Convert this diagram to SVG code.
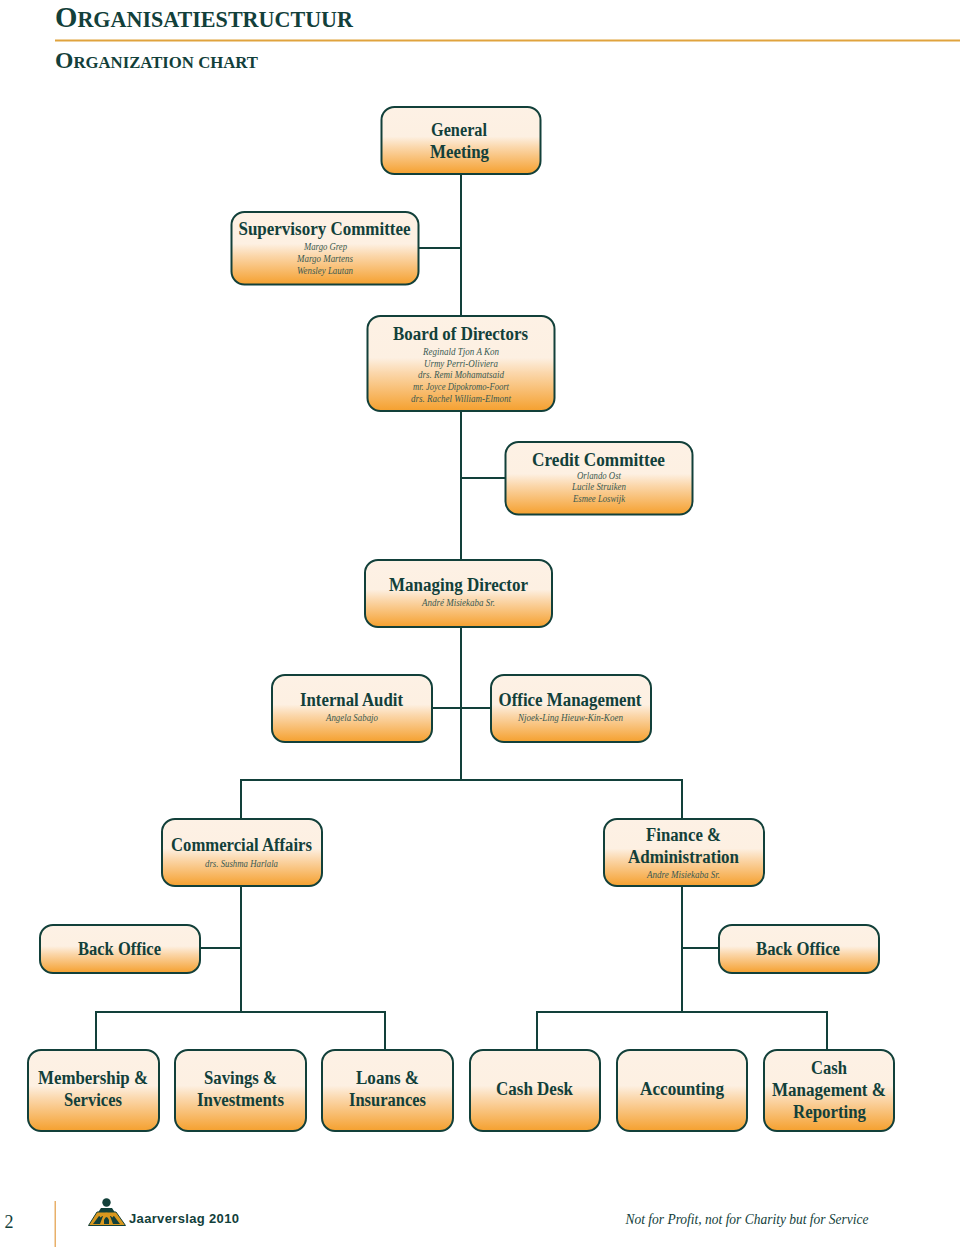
<svg xmlns="http://www.w3.org/2000/svg" width="960" height="1247" viewBox="0 0 960 1247">
<style>
text{font-family:"Liberation Serif","Times New Roman",serif;fill:#12403a;text-anchor:middle}
.n{fill:url(#g);stroke:#12403a;stroke-width:2}
.t{font-size:18.5px;font-weight:bold}
.s{font-size:10.5px;font-style:italic;fill:#3a5a52}
.c{fill:none;stroke:#12403a;stroke-width:2}
.h{text-anchor:start;font-weight:bold}
</style>
<defs><linearGradient id="g" x1="0" y1="0" x2="0" y2="1"><stop offset="0" stop-color="#fdf1e5"/><stop offset=".44" stop-color="#fdf0e2"/><stop offset=".6" stop-color="#fbd7ab"/><stop offset="1" stop-color="#f5a02e"/></linearGradient></defs>
<rect width="960" height="1247" fill="#fff"/>
<text class="h" x="55" y="27" font-size="30" textLength="298" lengthAdjust="spacingAndGlyphs">O<tspan font-size="23">RGANISATIESTRUCTUUR</tspan></text>
<rect x="55" y="39.500" width="905" height="2" fill="#e0a33d"/>
<text class="h" x="55" y="68" font-size="24" textLength="203" lengthAdjust="spacingAndGlyphs">O<tspan font-size="17">RGANIZATION CHART</tspan></text>
<g id="connectors">
<path class="c" d="M461 174V560M419 248H461M461 478H505M461 627V780M432 708H491M241 819V780H682V819M241 886V1012M200 948H241M682 886V1012M682 948H719M96 1050V1012H385V1050M537 1050V1012H827V1050"/>
</g>
<g id="general"><rect class="n" x="381.500" y="107" width="159" height="67" rx="13"/><text class="t" x="459" y="136" textLength="56" lengthAdjust="spacingAndGlyphs">General</text><text class="t" x="459.500" y="158" textLength="59" lengthAdjust="spacingAndGlyphs">Meeting</text></g>
<g id="supervisory"><rect class="n" x="231.500" y="212" width="187" height="72.500" rx="13"/><text class="t" x="324.500" y="235" textLength="172" lengthAdjust="spacingAndGlyphs">Supervisory Committee</text><text class="s" x="325.500" y="250" textLength="43" lengthAdjust="spacingAndGlyphs">Margo Grep</text><text class="s" x="325" y="262" textLength="56" lengthAdjust="spacingAndGlyphs">Margo Martens</text><text class="s" x="325" y="274" textLength="56" lengthAdjust="spacingAndGlyphs">Wensley Lautan</text></g>
<g id="board"><rect class="n" x="367.500" y="316" width="187" height="95" rx="13"/><text class="t" x="460.500" y="340" textLength="135" lengthAdjust="spacingAndGlyphs">Board of Directors</text><text class="s" x="461" y="355" textLength="76" lengthAdjust="spacingAndGlyphs">Reginald Tjon A Kon</text><text class="s" x="461" y="367" textLength="74" lengthAdjust="spacingAndGlyphs">Urmy Perri-Oliviera</text><text class="s" x="461" y="378" textLength="86" lengthAdjust="spacingAndGlyphs">drs. Remi Mohamatsaid</text><text class="s" x="461" y="390" textLength="96" lengthAdjust="spacingAndGlyphs">mr. Joyce Dipokromo-Foort</text><text class="s" x="461" y="402" textLength="100" lengthAdjust="spacingAndGlyphs">drs. Rachel William-Elmont</text></g>
<g id="credit"><rect class="n" x="505.500" y="442" width="187" height="72.500" rx="13"/><text class="t" x="598.500" y="466" textLength="133" lengthAdjust="spacingAndGlyphs">Credit Committee</text><text class="s" x="599" y="479" textLength="44" lengthAdjust="spacingAndGlyphs">Orlando Ost</text><text class="s" x="599" y="490" textLength="54" lengthAdjust="spacingAndGlyphs">Lucile Struiken</text><text class="s" x="599" y="502" textLength="52" lengthAdjust="spacingAndGlyphs">Esmee Loswijk</text></g>
<g id="director"><rect class="n" x="365" y="560" width="187" height="67" rx="13"/><text class="t" x="458.500" y="591" textLength="139" lengthAdjust="spacingAndGlyphs">Managing Director</text><text class="s" x="458.500" y="606" textLength="73" lengthAdjust="spacingAndGlyphs">André Misiekaba Sr.</text></g>
<g id="audit"><rect class="n" x="272" y="675" width="160" height="67" rx="13"/><text class="t" x="351.500" y="706" textLength="103" lengthAdjust="spacingAndGlyphs">Internal Audit</text><text class="s" x="352" y="721" textLength="52" lengthAdjust="spacingAndGlyphs">Angela Sabajo</text></g>
<g id="office"><rect class="n" x="491" y="675" width="160" height="67" rx="13"/><text class="t" x="570" y="706" textLength="143" lengthAdjust="spacingAndGlyphs">Office Management</text><text class="s" x="570.500" y="721" textLength="105" lengthAdjust="spacingAndGlyphs">Njoek-Ling Hieuw-Kin-Koen</text></g>
<g id="commercial"><rect class="n" x="162" y="819" width="160" height="67" rx="13"/><text class="t" x="241.500" y="851" textLength="141" lengthAdjust="spacingAndGlyphs">Commercial Affairs</text><text class="s" x="241.500" y="867" textLength="73" lengthAdjust="spacingAndGlyphs">drs. Sushma Harlala</text></g>
<g id="finance"><rect class="n" x="604" y="819" width="160" height="67" rx="13"/><text class="t" x="683.500" y="841" textLength="75" lengthAdjust="spacingAndGlyphs">Finance &amp;</text><text class="t" x="683.500" y="863" textLength="111" lengthAdjust="spacingAndGlyphs">Administration</text><text class="s" x="683.500" y="878" textLength="73" lengthAdjust="spacingAndGlyphs">Andre Misiekaba Sr.</text></g>
<g id="backoffice1"><rect class="n" x="40" y="925" width="160" height="48" rx="13"/><text class="t" x="119.500" y="955" textLength="83" lengthAdjust="spacingAndGlyphs">Back Office</text></g>
<g id="backoffice2"><rect class="n" x="719" y="925" width="160" height="48" rx="13"/><text class="t" x="798" y="955" textLength="84" lengthAdjust="spacingAndGlyphs">Back Office</text></g>
<g id="membership"><rect class="n" x="28" y="1050" width="131" height="81" rx="13"/><text class="t" x="93" y="1084" textLength="110" lengthAdjust="spacingAndGlyphs">Membership &amp;</text><text class="t" x="93" y="1106" textLength="58" lengthAdjust="spacingAndGlyphs">Services</text></g>
<g id="savings"><rect class="n" x="175" y="1050" width="131" height="81" rx="13"/><text class="t" x="240.500" y="1084" textLength="73" lengthAdjust="spacingAndGlyphs">Savings &amp;</text><text class="t" x="240.500" y="1106" textLength="87" lengthAdjust="spacingAndGlyphs">Investments</text></g>
<g id="loans"><rect class="n" x="322" y="1050" width="131" height="81" rx="13"/><text class="t" x="387.500" y="1084" textLength="63" lengthAdjust="spacingAndGlyphs">Loans &amp;</text><text class="t" x="387.500" y="1106" textLength="77" lengthAdjust="spacingAndGlyphs">Insurances</text></g>
<g id="cashdesk"><rect class="n" x="470" y="1050" width="130" height="81" rx="13"/><text class="t" x="534.500" y="1095" textLength="77" lengthAdjust="spacingAndGlyphs">Cash Desk</text></g>
<g id="accounting"><rect class="n" x="617" y="1050" width="130" height="81" rx="13"/><text class="t" x="682" y="1095" textLength="84" lengthAdjust="spacingAndGlyphs">Accounting</text></g>
<g id="cashmgmt"><rect class="n" x="764" y="1050" width="130" height="81" rx="13"/><text class="t" x="829" y="1074" textLength="36" lengthAdjust="spacingAndGlyphs">Cash</text><text class="t" x="829" y="1096" textLength="114" lengthAdjust="spacingAndGlyphs">Management &amp;</text><text class="t" x="829.500" y="1118" textLength="73" lengthAdjust="spacingAndGlyphs">Reporting</text></g>
<text x="9" y="1228" font-size="18" fill="#444">2</text>
<rect x="54.500" y="1201" width="1.500" height="46" fill="#e8b06a"/>
<g id="logo"><circle cx="106.500" cy="1202.500" r="4.200" fill="#12403a"/><path d="M101 1208H112L116 1214H97Z" fill="#12403a"/><path d="M97 1212H116L125.500 1225.500H88.500Z" fill="#d9981f" stroke="#12403a"/><path d="M93 1224L99 1216H103L100 1224ZM120 1224L114 1216H110L113 1224ZM104 1224V1220Q106.500 1214 109 1220V1224Z" fill="#12403a"/><path d="M100 1217Q106.500 1210 113 1217" fill="none" stroke="#d9981f" stroke-width="1.500"/></g>
<text x="184" y="1223" font-size="13" font-weight="bold" style="font-family:'Liberation Sans',Arial,sans-serif" textLength="110">Jaarverslag 2010</text>
<text x="747" y="1224" font-size="15.500" font-style="italic" fill="#3a5a52" textLength="243" lengthAdjust="spacingAndGlyphs">Not for Profit, not for Charity but for Service</text>
</svg>
